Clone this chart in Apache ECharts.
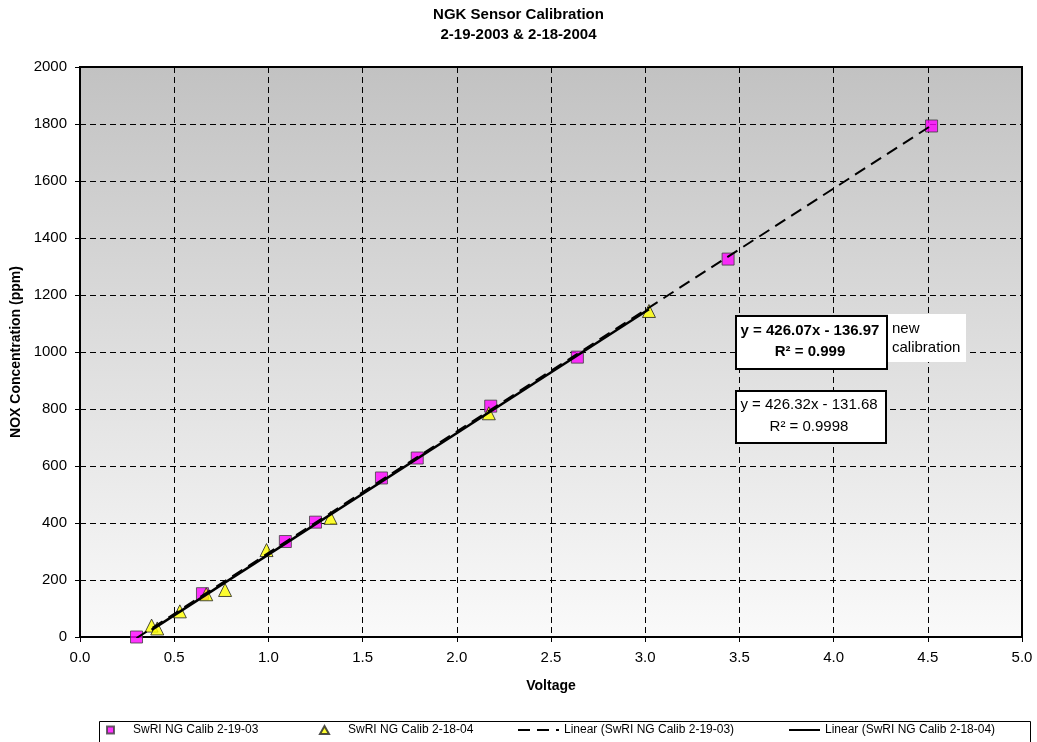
<!DOCTYPE html>
<html>
<head>
<meta charset="utf-8">
<script src="https://cdn.jsdelivr.net/npm/echarts@6/dist/echarts.min.js"></script>
<style>
html,body{margin:0;padding:0;background:#fff;}
#chart{width:1037px;height:742px;}
</style>
</head>
<body>
<div id="chart"></div>
<script>
// ---- data ----
const seriesNames = ['SwRI NG Calib 2-19-03', 'SwRI NG Calib 2-18-04',
  'Linear (SwRI NG Calib 2-19-03)', 'Linear (SwRI NG Calib 2-18-04)'];
const calib0319 = [[0.30,0],[0.65,152],[1.09,335],[1.25,403],[1.60,558],[1.79,628],[2.18,810],[2.64,982],[3.44,1326],[4.52,1793]];
const calib0218 = [[0.38,40],[0.41,30],[0.53,90],[0.67,150],[0.77,165],[0.99,305],[1.33,418],[2.17,785],[3.02,1144]];
// trendline coefficients [slope, intercept] as shown in the chart labels
const fit0319 = [426.32, -131.68];
const fit0218 = [426.07, -136.97];
const eqText0319 = ['y = 426.32x - 131.68', 'R² = 0.9998'];
const eqText0218 = ['y = 426.07x - 136.97', 'R² = 0.999'];
const noteText = ['new', 'calibration'];
const xTicks = [0,0.5,1,1.5,2,2.5,3,3.5,4,4.5,5];
const yTicks = [0,200,400,600,800,1000,1200,1400,1600,1800,2000];

function trend(data, fit){
  const xs = data.map(d=>d[0]);
  const x0 = Math.min(...xs), x1 = Math.max(...xs);
  return [[x0, fit[0]*x0+fit[1]], [x1, fit[0]*x1+fit[1]]];
}

const FONT = 'Liberation Sans, Arial, sans-serif';
const chart = echarts.init(document.getElementById('chart'));

const legendText = {fontFamily:FONT, fontSize:12, color:'#000'};
const legendBase = {orient:'horizontal', top:724, padding:0, itemHeight:8};

chart.setOption({
  animation:false,
  backgroundColor:'#fff',
  title:{
    text:'NGK Sensor Calibration\n2-19-2003 & 2-18-2004',
    left:'center', top:0,
    textStyle:{fontFamily:FONT, fontSize:15, fontWeight:'bold', color:'#000', lineHeight:20}
  },
  grid:{
    left:80, right:15, top:67, bottom:105, show:true,
    borderColor:'#000', borderWidth:2,
    backgroundColor:new echarts.graphic.LinearGradient(0,0,0,1,[
      {offset:0,color:'#c2c2c2'},{offset:1,color:'#fafafa'}])
  },
  xAxis:{
    type:'value', min:xTicks[0], max:xTicks[xTicks.length-1], interval:0.5,
    name:'Voltage', nameLocation:'middle', nameGap:42,
    nameTextStyle:{fontFamily:FONT, fontSize:14, fontWeight:'bold', color:'#000'},
    axisLine:{show:true, onZero:false, lineStyle:{color:'#000', width:2}},
    axisTick:{show:true, length:5, lineStyle:{color:'#000'}},
    axisLabel:{fontFamily:FONT, fontSize:15, color:'#000', margin:13,
      formatter:v=>v.toFixed(1)},
    splitLine:{show:true, lineStyle:{color:'#000', type:[6,4], width:1}}
  },
  yAxis:{
    type:'value', min:yTicks[0], max:yTicks[yTicks.length-1], interval:200,
    name:'NOX Concentration (ppm)', nameLocation:'middle', nameGap:53,
    nameTextStyle:{fontFamily:FONT, fontSize:14, fontWeight:'bold', color:'#000'},
    axisLine:{show:true, lineStyle:{color:'#000', width:2}},
    axisTick:{show:true, length:5, lineStyle:{color:'#000'}},
    axisLabel:{fontFamily:FONT, fontSize:15, color:'#000', margin:13,
      formatter:v=>String(v)},
    splitLine:{show:true, lineStyle:{color:'#000', type:[6,4], width:1}}
  },
  legend:[
    Object.assign({}, legendBase, {left:106, itemWidth:7, itemHeight:7,
      data:[{name:seriesNames[0], icon:'rect'}],
      textStyle:Object.assign({}, legendText, {padding:[0,0,0,14]})}),
    Object.assign({}, legendBase, {left:319, itemWidth:9, itemHeight:8,
      data:[{name:seriesNames[1], icon:'triangle'}],
      textStyle:Object.assign({}, legendText, {padding:[0,0,0,14]})}),
    Object.assign({}, legendBase, {left:517, itemWidth:41,
      data:[{name:seriesNames[2], itemStyle:{opacity:0}}],
      textStyle:legendText}),
    Object.assign({}, legendBase, {left:788, itemWidth:31,
      data:[{name:seriesNames[3], itemStyle:{opacity:0}}],
      textStyle:legendText})
  ],
  series:[
    {name:seriesNames[0], type:'scatter', data:calib0319, symbol:'rect', symbolSize:12, z:3,
      itemStyle:{color:'#ff00ff', borderColor:'#404040', borderWidth:1}},
    {name:seriesNames[1], type:'scatter', data:calib0218, symbol:'triangle', symbolSize:13, z:3,
      itemStyle:{color:'#ffff00', borderColor:'#222', borderWidth:1}},
    {name:seriesNames[2], type:'line', data:trend(calib0319, fit0319), symbol:'none', z:4,
      lineStyle:{color:'#000', width:2, type:[12,7]}, itemStyle:{color:'#000'}},
    {name:seriesNames[3], type:'line', data:trend(calib0218, fit0218), symbol:'none', z:4,
      lineStyle:{color:'#000', width:2.5, type:'solid'}, itemStyle:{color:'#000'}}
  ],
  graphic:[
    {type:'rect', left:97, top:719, shape:{width:931, height:22},
      style:{fill:'none', stroke:'#000', lineWidth:1}, z:-1},
    {type:'rect', left:888, top:314, shape:{width:78, height:48}, style:{fill:'#fff'}, z:10},
    {type:'text', left:892, top:319, z:11,
      style:{text:noteText.join('\n'), font:'15px '+FONT, fill:'#000', lineHeight:19}},
    {type:'rect', left:735, top:315, shape:{width:151, height:53},
      style:{fill:'#fff', stroke:'#000', lineWidth:2}, z:10},
    {type:'text', x:810, y:331, z:11,
      style:{text:eqText0218[0], font:'bold 15px '+FONT, fill:'#000', align:'center', verticalAlign:'middle'}},
    {type:'text', x:810, y:352, z:11,
      style:{text:eqText0218[1], font:'bold 15px '+FONT, fill:'#000', align:'center', verticalAlign:'middle'}},
    {type:'rect', left:735, top:390, shape:{width:150, height:52},
      style:{fill:'#fff', stroke:'#000', lineWidth:2}, z:10},
    {type:'text', x:809, y:405, z:11,
      style:{text:eqText0319[0], font:'15px '+FONT, fill:'#000', align:'center', verticalAlign:'middle'}},
    {type:'text', x:809, y:427, z:11,
      style:{text:eqText0319[1], font:'15px '+FONT, fill:'#000', align:'center', verticalAlign:'middle'}}
  ]
});
</script>
</body>
</html>
